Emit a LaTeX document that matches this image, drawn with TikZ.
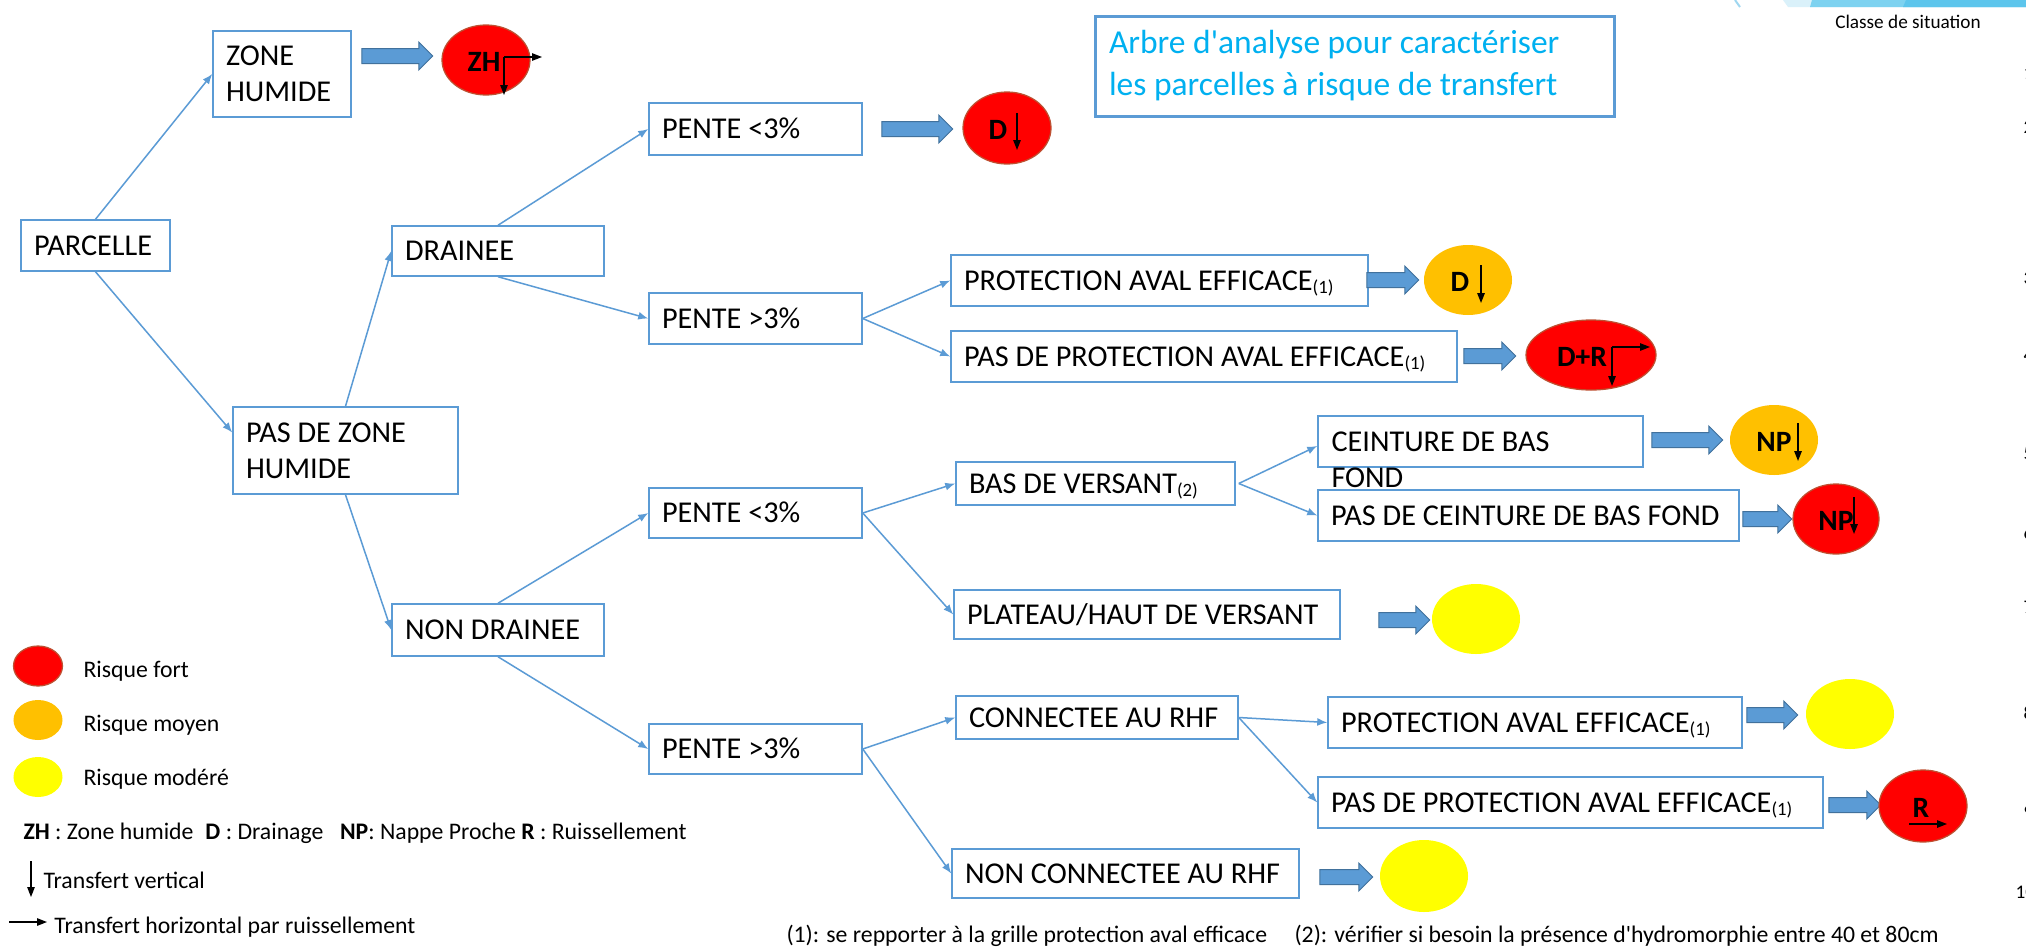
\documentclass[tikz,border=0pt]{standalone}
\usepackage{fontspec}
\setmainfont{Carlito}
\usetikzlibrary{arrows.meta,shapes.geometric,shapes.arrows}
\definecolor{bblue}{RGB}{91,155,213}
\definecolor{bdark}{RGB}{65,113,156}
\definecolor{rred}{RGB}{255,0,0}
\definecolor{rorange}{RGB}{255,192,0}
\definecolor{ryellow}{RGB}{255,255,0}
\definecolor{redline}{RGB}{190,80,50}
\definecolor{titlecyan}{RGB}{0,176,240}
\definecolor{decoA}{RGB}{160,215,240}
\definecolor{decoB}{RGB}{218,241,250}
\definecolor{decoC}{RGB}{125,210,240}
\definecolor{decoD}{RGB}{92,197,236}
\newcommand\myidx[1]{\raisebox{-1.2pt}{\fontsize{7.5}{8}\selectfont(#1)}}
\newcommand\lbx[2]{\makebox[#1][l]{#2}}
\newcommand\twol[2]{\vbox{\hbox{#1}\hbox{#2}}}
\begin{document}
\begin{tikzpicture}[x=0.4pt,y=-0.4pt,
  box/.style={draw=bblue, line width=0.6pt, inner xsep=5.2pt, inner ysep=0pt, font=\fontsize{12.1}{14.4}\selectfont},
  one/.style={box, text height=7.8pt, text depth=0pt},
  link/.style={draw=bblue, line width=0.6pt, -{Latex[length=4pt,width=3.2pt]}},
  fat/.style={single arrow, fill=bblue, draw=bdark, line width=0.4pt, inner xsep=0pt, inner ysep=2.8pt, single arrow head extend=2.6pt},
  bub/.style={ellipse, inner sep=0pt, minimum width=35.2pt, minimum height=28pt},
  redb/.style={bub, fill=rred, draw=redline, line width=0.5pt},
  orab/.style={bub, fill=rorange},
  yelb/.style={bub, fill=ryellow},
  btxt/.style={font=\fontsize{11.8}{12}\selectfont\bfseries, inner sep=0pt},
  blk/.style={draw=black, line width=0.5pt, -{Triangle[length=4pt,width=3pt]}},
  lab/.style={font=\fontsize{9.5}{11}\selectfont, inner sep=0pt, anchor=base west},
  tiny/.style={font=\fontsize{7.7}{9}\selectfont, inner sep=0pt}]
\useasboundingbox (0,0) rectangle (2026,947);
\fill[white] (0,0) rectangle (2026,947);

% top-right decoration
\fill[decoB] (1783,0) -- (2026,0) -- (2026,7) -- (1788,7) -- cycle;
\fill[decoC] (1812,0) -- (2026,0) -- (2026,7) -- (1810,7) -- cycle;
\fill[decoD] (1906,0) -- (2026,0) -- (2026,7) -- (1903,7) -- cycle;
\draw[decoA, line width=0.8pt] (1735,0) -- (1740,7);
\node[tiny, anchor=base] (classe) at (1908,28) {Classe de situation};

% title
\node[draw=bblue, line width=1.2pt, minimum width=207.6pt, minimum height=40pt, inner xsep=5.6pt, inner ysep=0pt, text=titlecyan, font=\fontsize{13.4}{16.8}\selectfont] (title) at (1354.5,66) {\lbx{196.4pt}{\twol{Arbre d\textquotesingle analyse pour caractériser}{les parcelles à risque de transfert}}};

% boxes
\node[one, minimum width=59.6pt, minimum height=20.4pt] (parcelle) at (95.5,245.5) {\lbx{49.2pt}{PARCELLE}};
\node[box, minimum width=55.2pt, minimum height=34.4pt] (zh) at (282,74) {\lbx{44.8pt}{\twol{ZONE}{HUMIDE}}};
\node[box, minimum width=90pt, minimum height=34.8pt] (pzh) at (345.5,450.5) {\lbx{79.6pt}{\twol{PAS DE ZONE}{HUMIDE}}};
\node[one, minimum width=84.8pt, minimum height=20pt] (drainee) at (498,251) {\lbx{74.4pt}{DRAINEE}};
\node[one, minimum width=84.8pt, minimum height=20.8pt] (nondrainee) at (498,630) {\lbx{74.4pt}{NON DRAINEE}};
\node[one, minimum width=85.2pt, minimum height=20.8pt] (p1) at (755.5,129) {\lbx{74.8pt}{PENTE <3\%}};
\node[one, minimum width=85.2pt, minimum height=20.4pt] (p2) at (755.5,318.5) {\lbx{74.8pt}{PENTE >3\%}};
\node[one, minimum width=85.2pt, minimum height=20pt] (p3) at (755.5,513) {\lbx{74.8pt}{PENTE <3\%}};
\node[one, minimum width=85.2pt, minimum height=20pt] (p4) at (755.5,749) {\lbx{74.8pt}{PENTE >3\%}};
\node[one, minimum width=166.8pt, minimum height=20.4pt] (pae1) at (1159.5,280.5) {\lbx{156.4pt}{PROTECTION AVAL EFFICACE\myidx{1}}};
\node[one, minimum width=202.4pt, minimum height=20.4pt] (ppae1) at (1204,356.5) {\lbx{192pt}{PAS DE PROTECTION AVAL EFFICACE\myidx{1}}};
\node[one, minimum width=111.6pt, minimum height=17.2pt] (bdv) at (1095.5,483.5) {\lbx{101.2pt}{BAS DE VERSANT\myidx{2}}};
\node[box, minimum width=130pt, minimum height=20.4pt] (ceint) at (1480.5,441.5) {};
\node[font=\fontsize{12.1}{14.4}\selectfont, inner sep=0pt, anchor=north west] (ceinttxt) at (1331,431) {\twol{CEINTURE DE BAS}{FOND}};
\node[one, minimum width=168.4pt, minimum height=20.4pt] (pceint) at (1528.5,515.5) {\lbx{158pt}{PAS DE CEINTURE DE BAS FOND}};
\node[one, minimum width=154.4pt, minimum height=19.6pt] (plat) at (1147,614.5) {\lbx{144pt}{PLATEAU/HAUT DE VERSANT}};
\node[one, minimum width=112.8pt, minimum height=17.2pt] (conn) at (1097,717.5) {\lbx{102.4pt}{CONNECTEE AU RHF}};
\node[one, minimum width=165.6pt, minimum height=20.4pt] (pae2) at (1535,722.5) {\lbx{155.2pt}{PROTECTION AVAL EFFICACE\myidx{1}}};
\node[one, minimum width=202pt, minimum height=20.4pt] (ppae2) at (1570.5,802.5) {\lbx{191.6pt}{PAS DE PROTECTION AVAL EFFICACE\myidx{1}}};
\node[one, minimum width=138.8pt, minimum height=19.6pt] (nconn) at (1125.5,873.5) {\lbx{128.4pt}{NON CONNECTEE AU RHF}};

% tree links
\draw[link] (parcelle.north) -- (zh.west);
\draw[link] (parcelle.south) -- ([yshift=7.2pt]pzh.west);
\draw[link] (pzh.north) -- (drainee.west);
\draw[link] (pzh.south) -- (nondrainee.west);
\draw[link] (drainee.north) -- (p1.west);
\draw[link] (drainee.south) -- (p2.west);
\draw[link] (p2.east) -- (pae1.west);
\draw[link] (p2.east) -- (ppae1.west);
\draw[link] (nondrainee.north) -- (p3.west);
\draw[link] (nondrainee.south) -- (p4.west);
\draw[link] (p3.east) -- (bdv.west);
\draw[link] (p3.east) -- (plat.west);
\draw[link] ([xshift=1.2pt]bdv.east) -- ([yshift=-1.8pt]ceint.west);
\draw[link] ([xshift=1.2pt]bdv.east) -- (pceint.west);
\draw[link] (p4.east) -- (conn.west);
\draw[link] (p4.east) -- (nconn.west);
\draw[link] (conn.east) -- (pae2.west);
\draw[link] (conn.east) -- (ppae2.west);

% block arrows
\node[fat, minimum height=28.4pt] (fa1) at (393.5,56) {};
\node[fat, minimum height=28.4pt] (fa2) at (913.5,129) {};
\node[fat, minimum height=20.8pt] (fa3) at (1389,280) {};
\node[fat, minimum height=20.8pt] (fa4) at (1486,356) {};
\node[fat, minimum height=28.4pt] (fa5) at (1683.5,440) {};
\node[fat, minimum height=19.6pt] (fa6) at (1763.5,519) {};
\node[fat, minimum height=20.4pt] (fa7) at (1400.5,620) {};
\node[fat, minimum height=20.4pt] (fa8) at (1768.5,715) {};
\node[fat, minimum height=20.8pt] (fa9) at (1851,805) {};
\node[fat, minimum height=21.2pt] (fa10) at (1342.5,877) {};

% risk bubbles
\node[redb] (bzh) at (486,60) {};
\node[redb, minimum height=28.8pt] (bd1) at (1007,128) {};
\node[orab] (bd2) at (1468,280) {};
\node[redb, minimum width=52pt] (bdr) at (1591,355) {};
\node[orab] (bnp1) at (1774,440) {};
\node[redb, minimum width=34.4pt] (bnp2) at (1836,519) {};
\node[yelb] (by1) at (1476,619) {};
\node[yelb] (by2) at (1850,714) {};
\node[redb, minimum height=28.8pt] (br) at (1923,806) {};
\node[yelb, minimum height=28.8pt] (by3) at (1424,876) {};

\node[btxt] (tzh) at (484,62) {ZH};
\node[btxt] (td1) at (998,130) {D};
\node[btxt] (td2) at (1460,282) {D};
\node[btxt] (tdr) at (1582,357) {D+R};
\node[btxt] (tnp1) at (1774,442) {NP};
\node[btxt] (tnp2) at (1836,521) {NP};
\node[btxt] (tr) at (1921,808) {R};

\coordinate (zhc) at (504,57); \coordinate (zhr) at (542,57); \coordinate (zhd) at (504,95);
\draw[blk] (zhc) -- (zhr); \draw[blk] (zhc) -- (zhd);
\coordinate (d1a) at (1017,113); \coordinate (d1b) at (1017,150);
\draw[blk] (d1a) -- (d1b);
\coordinate (d2a) at (1481,265); \coordinate (d2b) at (1481,303);
\draw[blk] (d2a) -- (d2b);
\coordinate (drc) at (1612,347); \coordinate (drr) at (1650,347); \coordinate (drd) at (1612,386);
\draw[blk] (drc) -- (drr); \draw[blk] (drc) -- (drd);
\coordinate (np1a) at (1798,423); \coordinate (np1b) at (1798,461);
\draw[blk] (np1a) -- (np1b);
\coordinate (np2a) at (1854,497); \coordinate (np2b) at (1854,534);
\draw[blk] (np2a) -- (np2b);
\coordinate (ra) at (1909,824); \coordinate (rb) at (1947,824);
\draw[blk] (ra) -- (rb);

% legend
\node[redb, minimum width=19.6pt, minimum height=16pt] (lr) at (38,666) {};
\node[orab, minimum width=19.6pt, minimum height=16pt] (lo) at (38,720) {};
\node[yelb, minimum width=19.6pt, minimum height=16pt] (ly) at (38,777) {};
\node[lab] (tlr) at (83,677) {Risque fort};
\node[lab] (tlo) at (83,731) {Risque moyen};
\node[lab] (tly) at (83,785) {Risque modéré};
\node[lab] (abbr) at (23,839) {\textbf{ZH} : Zone humide\hspace{0.5em}\textbf{D} : Drainage\hspace{0.7em}\textbf{NP}: Nappe Proche \textbf{R} : Ruissellement};
\coordinate (lva) at (31,861); \coordinate (lvb) at (31,897);
\draw[blk] (lva) -- (lvb);
\node[lab] (tlv) at (43,888) {Transfert vertical};
\coordinate (lha) at (9,922); \coordinate (lhb) at (47,922);
\draw[blk] (lha) -- (lhb);
\node[lab] (tlh) at (54,933) {Transfert horizontal par ruissellement};

% footnotes
\node[lab] (f1) at (786,942) {(1): se repporter à la grille protection aval efficace};
\node[lab] (f2) at (1294,942) {(2): vérifier si besoin la présence d\textquotesingle hydromorphie entre 40 et 80cm};

% cut-off numbers at the right edge
\node[tiny, anchor=base west] (n1) at (2023,79) {1};
\node[tiny, anchor=base west] (n2) at (2023,133) {2};
\node[tiny, anchor=base west] (n3) at (2023,284) {3};
\node[tiny, anchor=base west] (n4) at (2023,361) {4};
\node[tiny, anchor=base west] (n5) at (2023,459) {5};
\node[tiny, anchor=base west] (n6) at (2023,539) {6};
\node[tiny, anchor=base west] (n7) at (2023,613) {7};
\node[tiny, anchor=base west] (n8) at (2023,719) {8};
\node[tiny, anchor=base west] (n9) at (2023,818) {9};
\node[tiny, anchor=base west] (n10) at (2015,898) {10};
\end{tikzpicture}
\end{document}
